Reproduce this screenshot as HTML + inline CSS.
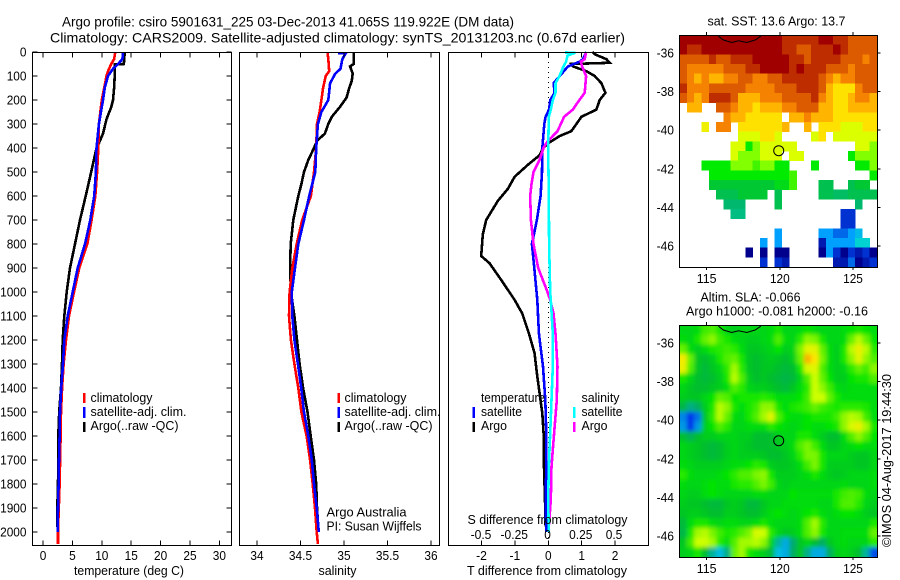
<!DOCTYPE html>
<html>
<head>
<meta charset="utf-8">
<title>Argo profile</title>
<style>
html,body{margin:0;padding:0;background:#fff;}
svg{display:block;}
text{font-family:"Liberation Sans",sans-serif;font-size:13px;fill:#000;}
.t{font-size:14px;}
</style>
</head>
<body>
<svg id="fig" xmlns="http://www.w3.org/2000/svg" width="900" height="580" viewBox="0 0 900 580">
<defs>
<filter id="soft" x="-10%" y="-10%" width="120%" height="120%"><feGaussianBlur stdDeviation="2"/></filter>
<clipPath id="clipSla"><rect x="679.5" y="325" width="198" height="232"/></clipPath>
</defs>
<text class="t" x="62" y="26.5" textLength="452">Argo profile: csiro 5901631_225 03-Dec-2013 41.065S 119.922E (DM data)</text>
<text class="t" x="50" y="42.5" textLength="575">Climatology: CARS2009. Satellite-adjusted climatology: synTS_20131203.nc (0.67d earlier)</text>

<g id="panels"></g>
<g id="maps"></g>

<text x="74" y="575" textLength="110">temperature (deg C)</text>
<text x="318.5" y="575" textLength="38">salinity</text>
<text x="467" y="575" textLength="160">T difference from climatology</text>
<text x="467.5" y="524" textLength="160">S difference from climatology</text>

<g>
<rect x="83" y="393" width="2.5" height="10" fill="#f00"/>
<text x="90.5" y="402" textLength="62">climatology</text>
<rect x="83" y="407" width="2.5" height="11" fill="#00f"/>
<text x="90.5" y="416" textLength="96">satellite-adj. clim.</text>
<rect x="83" y="422" width="2.5" height="10" fill="#000"/>
<text x="90.5" y="430" textLength="88">Argo(..raw -QC)</text>
</g>
<g>
<rect x="337.5" y="393" width="2.5" height="10" fill="#f00"/>
<text x="344.5" y="402" textLength="62">climatology</text>
<rect x="337.5" y="407" width="2.5" height="11" fill="#00f"/>
<text x="344.5" y="416" textLength="96">satellite-adj. clim.</text>
<rect x="337.5" y="422" width="2.5" height="10" fill="#000"/>
<text x="344.5" y="430" textLength="88">Argo(..raw -QC)</text>
</g>
<text x="326.5" y="516.5" textLength="80">Argo Australia</text>
<text x="326.5" y="530.5" textLength="95">PI: Susan Wijffels</text>

<g>
<text x="481" y="402" textLength="64">temperature</text>
<rect x="472.5" y="407" width="2.5" height="11" fill="#00f"/>
<text x="481" y="416" textLength="41">satellite</text>
<rect x="472.5" y="422" width="2.5" height="10" fill="#000"/>
<text x="481" y="430" textLength="26">Argo</text>
<text x="581.5" y="402" textLength="38">salinity</text>
<rect x="573" y="407" width="2.5" height="11" fill="#0ff"/>
<text x="581.5" y="416" textLength="41">satellite</text>
<rect x="573" y="422" width="2.5" height="10" fill="#f0f"/>
<text x="581.5" y="430" textLength="26">Argo</text>
</g>

<text x="707.5" y="25.5" textLength="138">sat. SST: 13.6 Argo: 13.7</text>
<text x="700.5" y="301.5" textLength="100">Altim. SLA: -0.066</text>
<text x="686" y="315.5" textLength="182">Argo h1000: -0.081 h2000: -0.16</text>
<text transform="translate(891,547) rotate(-90)" textLength="173">©IMOS 04-Aug-2017 19:44:30</text>
</svg>

<script>
// ---------- profile data (depth in m) ----------
const depthTicks = [0,100,200,300,400,500,600,700,800,900,1000,1100,1200,1300,1400,1500,1600,1700,1800,1900,2000];
const tempTicks = [0,5,10,15,20,25,30];
const salTicks = [34,34.5,35,35.5,36];
const tDiffTicks = [-2,-1,0,1,2];
const sDiffTicks = [-0.5,-0.25,0,0.25,0.5];

const tempClimDepth = [0,30,50,80,100,150,200,300,400,500,600,700,800,900,1000,1100,1200,1300,1400,1500,1600,1800,2000,2050];
const tempClim = [12.3,12.1,11.6,11.05,10.8,10.4,10,9.5,9.4,9.2,8.9,8.27,7.54,6.18,5.27,4.42,3.91,3.5,3.25,3.06,3.0,2.83,2.55,2.55];
const tempSatDepth = [0,30,50,70,100,150,200,300,400,500,600,700,800,900,1000,1100,1200,1300,1400,1500,1600,1700,1800,1900,2000];
const tempSat = [13.6,13.5,12.75,11.9,11.05,10.5,10.2,9.5,9.1,9,8.7,8.05,7.14,5.9,5.05,4.2,3.63,3.4,3.1,2.89,2.83,2.72,2.66,2.55,2.5];
const tempArgoDepth = [0,40,50,52,100,150,200,230,280,340,380,400,500,600,700,800,900,1000,1100,1200,1300,1400,1500,1600,1700,1800,1900,1980];
const tempArgo = [13.9,13.8,13.7,12.2,12.2,12.1,11.9,11.6,10.8,10.2,9.5,9.1,8.2,7.26,6.29,5.44,4.6,4.03,3.63,3.35,3.23,3.06,2.75,2.6,2.6,2.55,2.44,2.44];

const salClimDepth = [0,30,80,100,150,200,250,300,400,500,600,700,800,900,1000,1100,1200,1300,1400,1500,1600,1700,1800,1900,2000,2050];
const salClim = [34.81,34.82,34.83,34.79,34.76,34.74,34.72,34.69,34.68,34.655,34.62,34.52,34.456,34.406,34.375,34.368,34.39,34.43,34.475,34.51,34.57,34.61,34.64,34.667,34.686,34.7];
const salSatDepth = [5,6,30,70,90,130,200,250,300,400,500,600,700,800,900,1000,1100,1200,1300,1400,1500,1600,1700,1800,1900,2000];
const salSat = [34.93,35.02,34.98,34.96,34.9,34.84,34.82,34.74,34.7,34.68,34.67,34.6,34.54,34.475,34.437,34.4,34.406,34.43,34.47,34.508,34.54,34.59,34.63,34.655,34.686,34.71];
const salArgoDepth = [0,50,60,90,120,150,190,230,270,300,340,370,400,450,500,550,600,700,800,900,1000,1100,1200,1300,1400,1500,1600,1700,1800,1900,1980];
const salArgo = [35.11,35.11,35.07,35.1,35.09,35.06,35.03,34.95,34.86,34.82,34.78,34.69,34.655,34.59,34.54,34.51,34.475,34.417,34.387,34.38,34.39,34.43,34.46,34.49,34.53,34.58,34.617,34.655,34.68,34.69,34.705];

const tDiffArgoDepth = [0,10,30,45,50,60,80,100,130,170,200,240,270,300,330,350,380,400,430,470,520,570,620,700,760,850,880,960,1033,1089,1172,1256,1339,1422,1506,1589,1728,1867,1978];
const tDiffArgo = [1.32,1.4,1.74,1.84,0.69,0.74,1.14,1.39,1.59,1.71,1.54,1.44,0.99,0.84,0.69,0.34,0,-0.16,-0.26,-0.61,-1.01,-1.21,-1.51,-1.86,-1.96,-2.01,-1.76,-1.36,-1.01,-0.78,-0.58,-0.41,-0.34,-0.26,-0.18,-0.14,-0.13,-0.1,-0.08];
const tDiffSatDepth = [0,30,40,60,100,130,170,200,240,270,300,400,500,600,700,800,900,1033,1172,1311,1450,1589,1728,1867,2000];
const tDiffSat = [1.14,1.04,0.94,0.59,0.34,0.16,0.19,0.06,0.02,-0.08,-0.12,-0.18,-0.19,-0.23,-0.34,-0.49,-0.42,-0.33,-0.28,-0.16,-0.09,-0.06,-0.06,-0.08,-0.06];
const sDiffArgoDepth = [0,30,40,60,100,170,200,240,270,300,330,350,380,400,450,500,550,600,700,800,900,1000,1033,1089,1172,1311,1450,1589,1728,1867,1978];
const sDiffArgo = [0.29,0.28,0.25,0.26,0.29,0.28,0.24,0.19,0.125,0.1,0.075,0.04,-0.01,-0.03,-0.06,-0.105,-0.12,-0.13,-0.125,-0.105,-0.07,0,0.02,0.045,0.06,0.075,0.07,0.05,0.03,0.025,0.01];
const sDiffSatDepth = [2,3,15,40,60,100,130,170,200,240,270,400,600,800,1000,1033,1172,1311,1450,1589,1728,1867,2000];
const sDiffSat = [0.13,0.21,0.15,0.14,0.12,0.09,0.06,0.06,0.04,0.025,0.01,0.005,0.01,0.012,0.02,0.025,0.04,0.04,0.03,0.02,0.01,0.005,0.01];

// ---------- map data ----------
const _ = null;
const lonTicks = [115,120,125];
const latTicks = [-36,-38,-40,-42,-44,-46];
const coastLon = [115.8,116.14,116.71,117.17,117.74,118.31,118.7];
const coastLat = [-35.14,-35.34,-35.47,-35.38,-35.47,-35.34,-35.14];
const profileLon = [119.922];
const profileLat = [-41.065];
// sea surface temperature (deg C) on a 0.5 degree grid
const sstGrid = [
[20,20,20,20,20,20,20,20,20,20,20,20,20,20,19,19,19,19,19,20,20,19,19,18,18,18,18],
[20,19,19,20,20,20,20,20,20,20,20,20,20,20,19,19,18,18,19,19,19,20,19,18,18,18,18],
[18,18,18,18,19,18,18,19,19,19,20,20,20,20,20,19,19,18,19,19,19,19,18,18,18,17,18],
[18,17,17,17,17,17,18,18,18,19,19,20,20,20,20,19,20,19,19,19,18,18,18,17,18,18,18],
[18,17,16,17,16,16,17,17,18,18,17,17,18,18,19,19,19,19,19,18,17,16,17,17,18,18,18],
[19,17,17,17,18,18,18,18,18,17,17,17,17,18,18,18,19,19,19,18,16,15,15,15,17,18,18],
[18,17,16,17,19,19,19,18,16,16,16,17,17,17,18,18,18,18,19,17,16,15,15,16,17,17,16],
[_,16,16,_,_,18,18,17,16,16,15,16,16,16,17,17,18,18,18,16,16,15,15,16,16,16,16],
[_,_,_,_,_,_,17,16,16,15,15,15,15,15,_,16,16,17,16,16,16,15,15,15,15,15,15],
[_,_,_,14.5,_,17,17,_,15,15,15,15,15,15,16,_,_,16,_,15,15,15,14,14,14,15,15],
[_,_,_,_,_,_,_,_,14,14,14,15,15,14,_,_,_,_,14,15,_,14,14,14,14,14,14],
[_,_,_,_,_,_,_,14,14,12,13,14,14,14,14,14,_,_,_,_,_,_,_,_,14,14,13],
[_,_,_,_,_,_,_,14,13,13,13,14,14,14,_,14,14,_,_,_,_,_,_,12,13,13,13],
[_,_,_,12,12,12,12,13,13,13,12.5,13,13,12,12,_,_,_,12,_,_,_,_,_,12,12,13],
[_,_,_,_,12,12,12,12,12,12,12,12,12,12,12,12.5,_,_,_,_,_,_,_,_,_,_,12],
[_,_,_,_,11,11,11,11,11,11,11,11,11,11.5,11.5,12.5,_,_,_,10.5,10.5,_,_,10.5,11,11,_],
[_,_,_,_,_,10.5,10.5,10.5,11,11,11,11,_,10.5,_,_,_,_,_,10.5,10.5,10.2,10.2,10.5,10.5,10.5,10.5],
[_,_,_,_,_,_,10,10,10,_,_,_,_,10.5,_,_,_,_,_,_,_,_,_,_,10,_,_],
[_,_,_,_,_,_,_,9.8,9.8,_,_,_,_,_,_,_,_,_,_,_,_,_,7,7,_,_,_],
[_,_,_,_,_,_,_,_,_,_,_,_,_,_,_,_,_,_,_,_,_,_,7,7,_,_,_],
[_,_,_,_,_,_,_,_,_,_,_,_,_,8,_,_,_,_,_,8,8,7.5,7.5,8,8.5,_,_],
[_,_,_,_,_,_,_,_,_,_,_,8,_,8,_,_,_,_,_,6.5,8,8,8,8,9,9,_],
[_,_,_,_,_,_,_,_,_,6,_,6,_,6,6,_,_,_,_,6,8,7,6,7,6.5,7,6],
[_,_,_,_,_,_,_,_,_,_,_,7,_,7,6.5,_,_,_,_,_,_,6.5,6.5,7.5,6,6.5,7]
];
// sea level anomaly (cm) on a 0.5 degree grid
const slaGrid = [
[-4,-4,-2,6,8,2,-4,-6,-4,-4,-4,-4,-2,2,-4,-4,-2,0,-2,-4,-4,-4,-2,0,2,0,-2],
[-2,-4,2,10,14,6,2,-2,-4,-6,-6,-4,-2,8,-2,-4,4,14,12,2,-4,-4,-2,10,18,10,0],
[10,-2,-6,-2,2,4,6,4,-2,-8,-8,-6,-4,0,-6,-4,12,24,24,10,-2,-6,2,18,26,18,4],
[28,10,-8,-10,-6,2,8,10,2,-8,-10,-8,-6,-8,-10,-6,10,38,30,12,-2,-6,2,14,24,14,8],
[26,8,-8,-12,-8,-4,4,16,4,-8,-10,-8,-8,-10,-12,-10,2,22,24,8,-2,-6,-4,4,10,6,14],
[2,-4,-10,-12,-10,-6,2,18,8,-6,-10,-8,-10,-12,-14,-12,-4,8,20,10,0,-6,-6,0,2,2,8],
[-4,-8,-10,-10,-8,-6,-2,8,4,-4,-6,-6,-8,-10,-12,-8,-2,4,20,14,6,-2,-4,-2,-2,-2,-2],
[-6,-8,-8,-4,0,10,8,0,2,2,2,4,2,-2,-2,-2,0,6,20,20,10,2,-2,-2,-2,-2,-2],
[-14,-22,-18,-6,2,18,14,2,-2,2,6,14,14,2,-2,2,4,6,10,6,4,2,4,4,4,2,-2],
[-36,-50,-38,-8,4,18,10,-2,-4,2,8,16,24,8,0,-2,-2,0,2,2,2,6,14,18,16,6,-2],
[-34,-48,-34,-6,0,8,4,-4,-4,-2,-2,-2,4,0,-2,-4,-2,0,-2,-2,0,2,14,22,26,16,2],
[-10,-16,-10,-6,-6,-4,-4,-4,-6,-6,-10,-10,-10,-6,-4,-4,2,2,-2,-6,-10,-10,-2,8,14,8,0],
[-4,-6,-8,-10,-12,-10,-6,-4,-6,-8,-10,-10,-10,-8,-6,-2,8,12,6,-2,-8,-8,-4,-2,0,-2,-2],
[-4,-6,-8,-10,-12,-10,-6,-4,-6,-6,-6,-8,-10,-10,-8,-4,4,12,12,2,-4,-4,-4,-6,-8,-8,-4],
[-2,-4,-6,-6,-6,-6,-4,-2,-2,0,4,2,-6,-8,-8,-6,-2,6,12,2,-6,-6,-6,-6,-8,-8,-4],
[4,-2,-4,-4,-4,-2,0,4,8,8,12,14,2,-6,-6,-6,-4,-2,2,-2,-6,-8,-6,-4,-4,-4,-2],
[-2,-4,-4,-2,0,-2,-2,2,4,4,8,12,6,-4,-6,-4,-4,-4,-4,-4,-4,-4,-2,-4,-4,-4,-2],
[-4,-6,-6,-2,0,-2,-4,-4,-4,-4,-2,-2,-4,-4,-4,0,-2,-2,-2,-2,-2,2,6,8,6,-2,-4],
[-6,-8,-8,-10,-12,-12,-8,-6,-8,-12,-12,-8,-4,-4,-2,-2,-2,-2,-2,-4,-4,2,8,8,4,-4,-6],
[-8,-6,-6,-8,-10,-10,-6,-6,-8,-10,-10,-6,-2,0,-2,-4,-2,0,2,-2,-4,-2,0,0,-2,-6,-8],
[-12,-2,2,2,-2,-4,-2,-2,-4,-4,-2,2,-2,-4,-4,-4,-2,8,16,4,-4,-4,-4,-4,-4,-4,2],
[-14,2,16,18,12,6,2,4,8,12,22,20,4,-4,-8,-6,-2,8,14,2,-4,-4,-2,-2,-2,-2,10],
[-8,6,20,20,16,4,-2,8,16,16,18,14,-4,-24,-32,-20,-8,-4,-10,-18,-8,-4,-2,-4,-4,-4,4],
[-6,-4,2,-10,-24,-30,-22,10,16,2,-2,-6,-12,-30,-32,-18,-8,-22,-32,-32,-18,-6,-4,-6,-10,-24,-42]
];

// ---------- scales ----------
const NS = 'http://www.w3.org/2000/svg';
const yDepth = d => 52 + d * 0.24;
const xTemp = v => 43 + v * 5.88;
const xSal = v => 257 + (v - 34) * 87;
const xTDiff = v => 548.3 + v * 33.4;
const xSDiff = v => 547.5 + v * 133;
const xLon = v => 679.5 + (v - 113.14) * 14.63;
const yLatSst = v => 35 + (-35.08 - v) * 19.33;
const yLatSla = v => 325 + (-35.08 - v) * 19.33;

function mk(parent, tag, attrs, txt) {
  const el = document.createElementNS(NS, tag);
  for (const k in attrs) el.setAttribute(k, attrs[k]);
  if (txt !== undefined) el.textContent = txt;
  parent.appendChild(el);
  return el;
}
function drawLine(parent, xs, ds, xf, color, w) {
  const pts = xs.map((v, i) => xf(v).toFixed(1) + ',' + yDepth(ds[i]).toFixed(1)).join(' ');
  return mk(parent, 'polyline', {points: pts, fill: 'none', stroke: color, 'stroke-width': w, 'shape-rendering': 'crispEdges'});
}
const panels = document.getElementById('panels');
const maps = document.getElementById('maps');

function tickMark(parent, x1, y1, x2, y2) {
  const t = mk(parent, 'line', {x1, y1, x2, y2, stroke: '#000', 'stroke-width': 1, 'shape-rendering': 'crispEdges'});
  
  
}
function frame(parent, x0, x1, y0, y1) {
  const f = mk(parent, 'rect', {x: x0, y: y0, width: x1 - x0, height: y1 - y0, fill: 'none', stroke: '#000', 'stroke-width': 1, 'shape-rendering': 'crispEdges'});
  
  
}
function xTickLabels(parent, ticks, xf, y, fmt) {
  ticks.forEach(v => {
    const t = mk(parent, 'text', {x: xf(v), y: y, 'text-anchor': 'middle'}, fmt ? fmt(v) : String(v));
    
    
  });
}

// ---------- temperature panel ----------
const gT = mk(panels, 'g', {});


const tA = drawLine(gT, tempArgo, tempArgoDepth, xTemp, '#000', 2.6);


const tC = drawLine(gT, tempClim, tempClimDepth, xTemp, '#f00', 2.6);


const tS = drawLine(gT, tempSat, tempSatDepth, xTemp, '#00f', 2.6);


frame(gT, 32.5, 231.5, 52.5, 545.5);
tempTicks.forEach(v => {
  tickMark(gT, xTemp(v), 52.5, xTemp(v), 57.5);
  tickMark(gT, xTemp(v), 545.5, xTemp(v), 540.5);
});
depthTicks.forEach(d => {
  tickMark(gT, 32.5, yDepth(d), 37.5, yDepth(d));
  tickMark(gT, 231.5, yDepth(d), 226.5, yDepth(d));
  const l = mk(gT, 'text', {x: 26.5, y: yDepth(d) + 4.5, 'text-anchor': 'end'}, String(d));
  
  
});
xTickLabels(gT, tempTicks, xTemp, 560);

// ---------- salinity panel ----------
const gS = mk(panels, 'g', {});


const sA = drawLine(gS, salArgo, salArgoDepth, xSal, '#000', 2.6);


const sC = drawLine(gS, salClim, salClimDepth, xSal, '#f00', 2.6);


const sS = drawLine(gS, salSat, salSatDepth, xSal, '#00f', 2.6);


frame(gS, 239.5, 439.5, 52.5, 545.5);
salTicks.forEach(v => {
  tickMark(gS, xSal(v), 52.5, xSal(v), 57.5);
  tickMark(gS, xSal(v), 545.5, xSal(v), 540.5);
});
xTickLabels(gS, salTicks, xSal, 560);

// ---------- difference panel ----------
const gD = mk(panels, 'g', {});


const zero = mk(gD, 'line', {x1: 548.5, y1: 52, x2: 548.5, y2: 545, stroke: '#000', 'stroke-width': 1, 'stroke-dasharray': '1 4', 'shape-rendering': 'crispEdges'});


const dTA = drawLine(gD, tDiffArgo, tDiffArgoDepth, xTDiff, '#000', 2.6);


const dTS = drawLine(gD, tDiffSat, tDiffSatDepth, xTDiff, '#00f', 2.6);


const dSA = drawLine(gD, sDiffArgo, sDiffArgoDepth, xSDiff, '#f0f', 2.6);


const dSS = drawLine(gD, sDiffSat, sDiffSatDepth, xSDiff, '#0ff', 2.6);


frame(gD, 448.5, 648.5, 52.5, 545.5);
tDiffTicks.forEach(v => {
  tickMark(gD, xTDiff(v), 52.5, xTDiff(v), 57.5);
  tickMark(gD, xTDiff(v), 545.5, xTDiff(v), 540.5);
});
xTickLabels(gD, tDiffTicks, xTDiff, 560);
xTickLabels(gD, sDiffTicks, xSDiff, 539);

// ---------- maps ----------
const sstStops = [[0,0,140],[0,50,210],[0,160,255],[0,210,210],[0,185,110],[0,200,50],[0,235,0],[130,255,0],[220,255,0],[255,225,0],[255,180,0],[245,130,0],[220,90,0],[190,45,0],[160,0,0]];
function sstColor(v) {
  const p = Math.max(0, Math.min(sstStops.length - 1.001, v - 6));
  const i = Math.floor(p), f = p - i;
  const c = [0,1,2].map(k => Math.round(sstStops[i][k] + (sstStops[i+1][k] - sstStops[i][k]) * f));
  return 'rgb(' + c.join(',') + ')';
}
const slaStops = [[-45,0,50,235],[-30,0,190,225],[-20,0,170,110],[-10,0,190,45],[0,0,228,0],[10,100,242,0],[20,205,255,0],[30,255,230,0],[40,250,165,0]];
function slaColor(v) {
  const s = slaStops;
  if (v <= s[0][0]) return 'rgb(' + s[0].slice(1).join(',') + ')';
  for (let i = 0; i < s.length - 1; i++) {
    if (v <= s[i+1][0]) {
      const f = (v - s[i][0]) / (s[i+1][0] - s[i][0]);
      return 'rgb(' + [1,2,3].map(k => Math.round(s[i][k] + (s[i+1][k] - s[i][k]) * f)).join(',') + ')';
    }
  }
  return 'rgb(' + s[s.length-1].slice(1).join(',') + ')';
}
const cellLon = c => 113.14 + 0.5 * c;
const cellLat = r => -35.08 - 0.5 * r;

function mapDecor(g, yLat, bottom, top) {
  const coast = mk(g, 'polyline', {points: coastLon.map((v, i) => xLon(v).toFixed(1) + ',' + yLat(coastLat[i]).toFixed(1)).join(' '), fill: 'none', stroke: '#000', 'stroke-width': 1});
  
  
  const c = mk(g, 'circle', {cx: xLon(profileLon[0]), cy: yLat(profileLat[0]), r: 5, fill: 'none', stroke: '#000', 'stroke-width': 1});
  
  
  frame(g, 679.5, 877.5, top + 0.5, bottom + 0.5);
  lonTicks.forEach(v => {
    tickMark(g, xLon(v), top, xLon(v), top - 3);
    tickMark(g, xLon(v), bottom, xLon(v), bottom + 3);
    const t = mk(g, 'text', {x: xLon(v), y: bottom + 16, 'text-anchor': 'middle'}, String(v));
    
    
  });
  latTicks.forEach(v => {
    tickMark(g, 877.5, yLat(v), 880.5, yLat(v));
    const t = mk(g, 'text', {x: 674, y: yLat(v) + 4.5, 'text-anchor': 'end'}, String(v));
    
    
  });
}

const gSst = mk(maps, 'g', {});


sstGrid.forEach((row, r) => row.forEach((v, c) => {
  if (v === null) return;
  const x0 = xLon(cellLon(c)), x1 = xLon(cellLon(c + 1));
  const y0 = yLatSst(cellLat(r)), y1 = yLatSst(cellLat(r + 1));
  const cell = mk(gSst, 'rect', {x: x0.toFixed(2), y: y0.toFixed(2), width: (x1 - x0 + 0.3).toFixed(2), height: (y1 - y0 + 0.3).toFixed(2), fill: sstColor(v), 'shape-rendering': 'crispEdges'});
  
  
}));
mapDecor(gSst, yLatSst, 267, 35);

const gSla = mk(maps, 'g', {});


const slaClip = mk(gSla, 'g', {'clip-path': 'url(#clipSla)'});
const slaBlur = mk(slaClip, 'g', {filter: 'url(#soft)'});
const nR = slaGrid.length, nC = slaGrid[0].length;
slaGrid.forEach((row, r) => row.forEach((v, c) => {
  let x0 = xLon(cellLon(c)), x1 = xLon(cellLon(c + 1));
  let y0 = yLatSla(cellLat(r)), y1 = yLatSla(cellLat(r + 1));
  if (c === 0) x0 -= 14;
  if (c === nC - 1) x1 += 14;
  if (r === 0) y0 -= 14;
  if (r === nR - 1) y1 += 14;
  const cell = mk(slaBlur, 'rect', {x: x0.toFixed(2), y: y0.toFixed(2), width: (x1 - x0 + 0.4).toFixed(2), height: (y1 - y0 + 0.4).toFixed(2), fill: slaColor(v)});
  
  
}));
mapDecor(gSla, yLatSla, 557, 325);

// ---------- fit text to the reference's narrow, tall glyphs ----------
const glyphWidth = ch => ch === '-' ? 4.2 : ch === '.' ? 3.4 : 6.6;
document.querySelectorAll('#fig text').forEach(t => {
  if (t.hasAttribute('textLength')) {
    t.setAttribute('lengthAdjust', 'spacingAndGlyphs');
  } else {
    const w = Array.from(t.textContent).reduce((sum, ch) => sum + glyphWidth(ch), 0);
    t.setAttribute('textLength', w.toFixed(1));
    t.setAttribute('lengthAdjust', 'spacingAndGlyphs');
  }
});
</script>
</body>
</html>
